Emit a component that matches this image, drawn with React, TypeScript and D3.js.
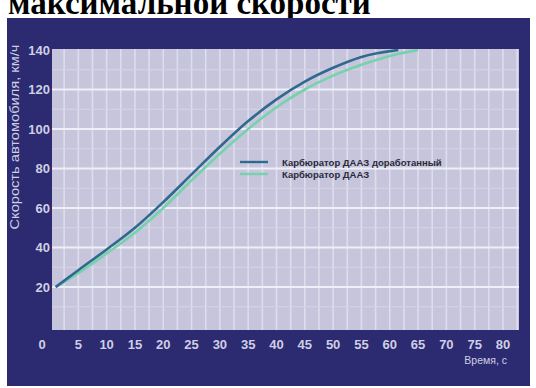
import React from "react";
import * as d3 from "d3";

const W = 536;
const H = 388;

const xTicks = [0, 5, 10, 15, 20, 25, 30, 35, 40, 45, 50, 55, 60, 65, 70, 75, 80];
const yTicks = [20, 40, 60, 80, 100, 120, 140];

const timeModified = [1, 5, 10, 15, 20, 25, 30, 35, 40, 45, 50, 55, 61.5];
const speedModified = [20, 28.5, 39, 50, 63, 77, 91, 104, 115, 124, 131, 136.5, 140];

const timeBase = [1, 5, 10, 15, 20, 25, 30, 35, 40, 45, 50, 55, 60, 65];
const speedBase = [20, 27, 37, 47.5, 60, 74, 87.5, 100, 111, 120, 127, 132.5, 137, 140];

const seriesNames = ["Карбюратор ДААЗ доработанный", "Карбюратор ДААЗ"];
const seriesColors = ["#2f6a8e", "#76d2ad"];

const title = "максимальной скорости";
const yTitle = "Скорость автомобиля, км/ч";
const xTitle = "Время, с";

export default function App() {
  const plot = { left: 52, right: 519, top: 49, bottom: 330 };
  const x = d3.scaleLinear().domain([0, 80]).range([50, 503]);
  const y = d3.scaleLinear().domain([0, 140]).range([326.5, 50]);

  const line = d3
    .line<[number, number]>()
    .x((d) => x(d[0]))
    .y((d) => y(d[1]))
    .curve(d3.curveMonotoneX);

  const dataA: [number, number][] = timeModified.map((t, i) => [t, speedModified[i]]);
  const dataB: [number, number][] = timeBase.map((t, i) => [t, speedBase[i]]);

  const minorX = d3.range(0, 83, 2.5);
  const minorY = d3.range(10, 140, 10);

  const labelFont = "'Liberation Sans', Arial, sans-serif";

  return (
    <svg
      width={W}
      height={H}
      style={{ position: "absolute", left: 0, top: 0, background: "#ffffff" }}
    >
      <defs>
        <clipPath id="plotClip">
          <rect
            x={plot.left}
            y={plot.top}
            width={plot.right - plot.left}
            height={plot.bottom - plot.top}
          />
        </clipPath>
      </defs>
      <text
        x={8}
        y={14}
        fontFamily="'Liberation Serif', 'Times New Roman', serif"
        fontWeight="bold"
        fontSize={33}
        fill="#000"
      >
        {title}
      </text>
      <rect x={7} y={18} width={523} height={368} fill="#2c2a70" />
      <rect
        x={plot.left}
        y={plot.top}
        width={plot.right - plot.left}
        height={plot.bottom - plot.top}
        fill="#c6c5dc"
      />
      <g clipPath="url(#plotClip)">
        {minorX.map((t) => (
          <line
            key={"vx" + t}
            x1={x(t)}
            x2={x(t)}
            y1={plot.top}
            y2={plot.bottom}
            stroke="#dedded"
            strokeWidth={1.6}
          />
        ))}
        {minorY.map((v) => (
          <line
            key={"hy" + v}
            x1={plot.left}
            x2={plot.right}
            y1={y(v)}
            y2={y(v)}
            stroke={v % 20 === 0 ? "#efeff7" : "#d6d5e6"}
            strokeWidth={v % 20 === 0 ? 1.8 : 1}
          />
        ))}
        <path d={line(dataB) || ""} fill="none" stroke={seriesColors[1]} strokeWidth={2.6} />
        <path d={line(dataA) || ""} fill="none" stroke={seriesColors[0]} strokeWidth={2.6} />
      </g>

      {/* legend */}
      <line x1={240} x2={268} y1={162} y2={162} stroke={seriesColors[0]} strokeWidth={2.4} />
      <line x1={240} x2={268} y1={174} y2={174} stroke={seriesColors[1]} strokeWidth={2.4} />
      <text x={282} y={165.5} fontFamily={labelFont} fontSize={9.5} fontWeight="bold" fill="#2a2a3a">
        {seriesNames[0]}
      </text>
      <text x={282} y={177.5} fontFamily={labelFont} fontSize={9.5} fontWeight="bold" fill="#2a2a3a">
        {seriesNames[1]}
      </text>

      {/* y tick labels */}
      {yTicks.map((v) => (
        <text
          key={"yt" + v}
          x={50}
          y={y(v) + 4.5}
          textAnchor="end"
          fontFamily={labelFont}
          fontWeight="bold"
          fontSize={13}
          fill="#cfcfe4"
        >
          {v}
        </text>
      ))}
      {/* x tick labels */}
      {xTicks.map((t) => (
        <text
          key={"xt" + t}
          x={t === 0 ? 42 : x(t)}
          y={349}
          textAnchor="middle"
          fontFamily={labelFont}
          fontWeight="bold"
          fontSize={13}
          fill="#cfcfe4"
        >
          {t}
        </text>
      ))}
      <text
        x={507}
        y={364}
        textAnchor="end"
        fontFamily={labelFont}
        fontSize={10.5}
        fill="#cfcfe4"
      >
        {xTitle}
      </text>
      <text
        transform={`translate(19, 137) rotate(-90)`}
        textAnchor="middle"
        fontFamily={labelFont}
        fontSize={12}
        textLength={185}
        lengthAdjust="spacingAndGlyphs"
        fill="#cfcfe4"
      >
        {yTitle}
      </text>
    </svg>
  );
}
